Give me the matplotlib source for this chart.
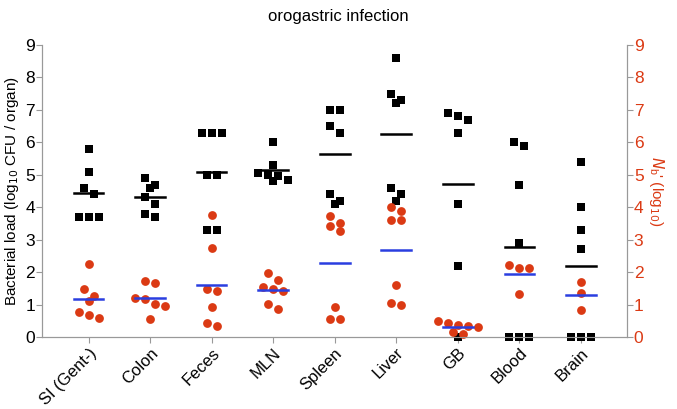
import numpy as np
import matplotlib as mpl
mpl.use('Agg')
import matplotlib.pyplot as plt

plt.rcParams['font.family'] = ['Liberation Sans', 'DejaVu Sans']

organs = ['SI (Gent-)', 'Colon', 'Feces', 'MLN', 'Spleen', 'Liver', 'GB', 'Blood', 'Brain']

# bacterial load, log10 CFU / organ (black squares)
cfu = [
    [5.8, 5.1, 4.6, 4.4, 3.7, 3.7, 3.7],
    [4.9, 4.7, 4.6, 4.3, 4.1, 3.8, 3.7],
    [6.3, 6.3, 6.3, 5.0, 5.0, 3.3, 3.3],
    [6.0, 5.3, 5.05, 5.0, 4.95, 4.85, 4.8],
    [7.0, 7.0, 6.5, 6.3, 4.4, 4.2, 4.1],
    [8.6, 7.5, 7.3, 7.2, 4.6, 4.4, 4.2],
    [6.9, 6.8, 6.7, 6.3, 4.1, 2.2, 0.0],
    [6.0, 5.9, 4.7, 2.9, 0.0, 0.0, 0.0],
    [5.4, 4.0, 3.3, 2.7, 0.0, 0.0, 0.0],
]

# Nb' (log10) (red circles)
nb = [
    [2.24, 1.48, 1.27, 1.12, 0.76, 0.68, 0.59],
    [1.74, 1.65, 1.19, 1.17, 1.03, 0.97, 0.57],
    [3.77, 2.75, 1.47, 1.42, 0.94, 0.42, 0.35],
    [1.98, 1.77, 1.54, 1.48, 1.42, 1.03, 0.86],
    [3.72, 3.52, 3.43, 3.28, 0.93, 0.54, 0.54],
    [4.01, 3.88, 3.62, 3.62, 1.59, 1.05, 0.98],
    [0.48, 0.42, 0.36, 0.34, 0.30, 0.14, 0.08],
    [2.23, 2.13, 2.13, 1.32],
    [1.70, 1.37, 0.82],
]

red = '#db3a14'
blue = '#2a3ee0'
grey = '#999999'

fig = plt.figure(figsize=(6.77, 4.09), dpi=100)
ax = fig.add_axes([0.062, 0.176, 0.864, 0.714])
ax.set_xlim(-0.76, 8.75)
ax.set_ylim(0, 9)

# px per data unit, used to spread overlapping markers sideways
px_x = 0.864 * 677 / (8.75 + 0.76)
px_y = 0.714 * 409 / 9.0


def swarm(vals, gap=10.0, near=8.0):
    # points closer than `near` px vertically go in one row, centred
    order = np.argsort(vals)[::-1]
    offs = np.zeros(len(vals))
    row = []
    for j in order:
        if row and (vals[row[0]] - vals[j]) * px_y >= near:
            for k, r in enumerate(row):
                offs[r] = (k - (len(row) - 1) / 2) * gap / px_x
            row = []
        row.append(j)
    for k, r in enumerate(row):
        offs[r] = (k - (len(row) - 1) / 2) * gap / px_x
    return offs


for i in range(len(organs)):
    y = np.array(cfu[i])
    ax.scatter(i + swarm(y), y, marker='s', s=34, color='black', zorder=3,
               clip_on=False, linewidths=0)
    ax.plot([i - 0.24, i + 0.24], [y.mean()] * 2, color='black', lw=1.8, zorder=4)

    y2 = np.array(nb[i])
    ax.scatter(i + swarm(y2), y2, marker='o', s=40, color=red, zorder=3,
               clip_on=False, linewidths=0)
    ax.plot([i - 0.24, i + 0.24], [y2.mean()] * 2, color=blue, lw=1.8, zorder=4)

ax.set_xticks(range(len(organs)))
ax.set_xticklabels(organs, rotation=45, ha='right', rotation_mode='anchor', fontsize=12)
ax.set_yticks(range(10))
ax.tick_params(axis='y', labelsize=12.5, length=4, color=grey, pad=1)
ax.tick_params(axis='x', length=4, color=grey, pad=2)
ax.set_ylabel('Bacterial load (log$_{10}$ CFU / organ)', fontsize=11, labelpad=3)
ax.spines['top'].set_visible(False)
for s in ['left', 'right', 'bottom']:
    ax.spines[s].set_color(grey)

ax2 = ax.twinx()
ax2.set_ylim(0, 9)
ax2.set_yticks(range(10))
ax2.tick_params(axis='y', labelsize=12.5, length=4, color=grey, labelcolor=red, pad=1)
ax2.set_ylabel("$N_\\mathregular{b}$' (log$_{10}$)", color=red, fontsize=11,
               rotation=270, labelpad=16)
ax2.spines['top'].set_visible(False)
for s in ['left', 'right', 'bottom']:
    ax2.spines[s].set_color(grey)

fig.suptitle('orogastric infection', fontsize=12, y=0.978)

fig.savefig('out.png', dpi=100)
